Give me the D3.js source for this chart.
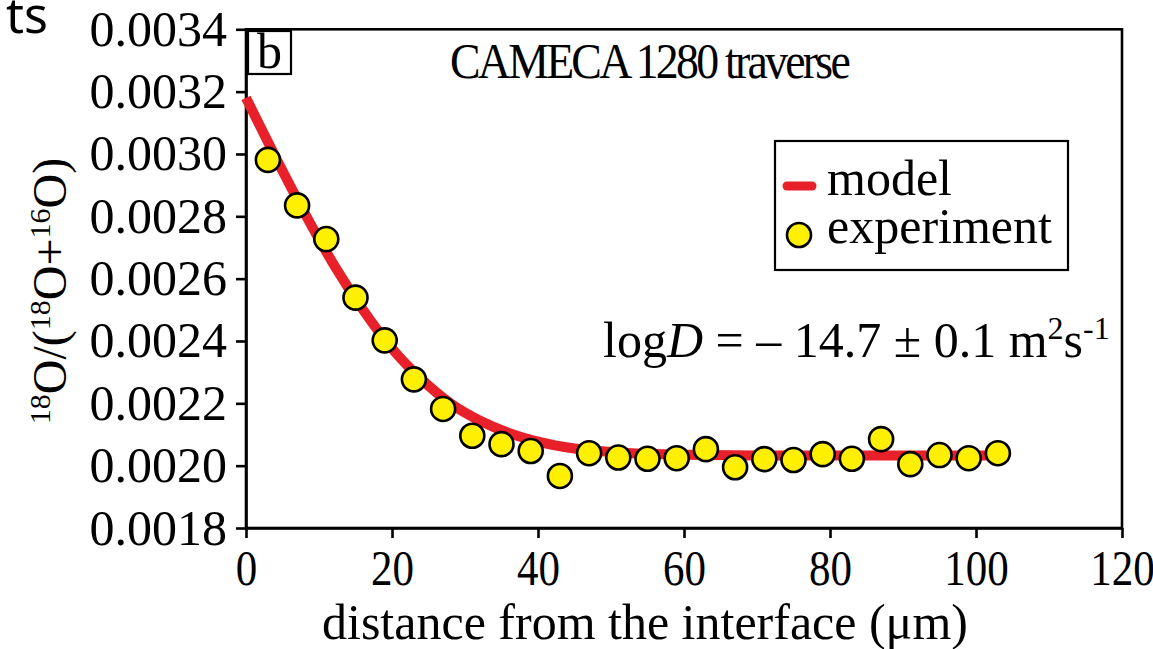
<!DOCTYPE html>
<html>
<head>
<meta charset="utf-8">
<script src="https://cdn.jsdelivr.net/npm/d3@7"></script>
<style>
  html, body { margin: 0; padding: 0; background: #fff; }
  svg { display: block; }
  text { font-family: "Liberation Serif", "Times New Roman", serif; fill: #000; }
</style>
</head>
<body>
<svg id="chart" width="1153" height="649"></svg>
<script>
// ---- data ----
const expDistance = [3, 7, 11, 15, 19, 23, 27, 31, 35, 39, 43, 47, 51, 55, 59, 63, 67, 71, 75, 79, 83, 87, 91, 95, 99, 103];
const expRatio = [0.002981, 0.002835, 0.002727, 0.002539, 0.002402, 0.002277, 0.002182, 0.002096, 0.002069, 0.002047,
                  0.001967, 0.002040, 0.002026, 0.002022, 0.002024, 0.002053, 0.001995, 0.002021, 0.002018, 0.002037,
                  0.002022, 0.002085, 0.002005, 0.002034, 0.002024, 0.002040];
const modelDistance = [0, 4, 8, 12, 16, 20, 24, 28, 32, 36, 40, 45, 50, 55, 60, 70, 80, 90, 103];
const modelRatio = [0.003180, 0.002992, 0.002812, 0.002646, 0.002501, 0.002376, 0.002278, 0.002200, 0.002145, 0.002105,
                    0.002077, 0.002055, 0.002044, 0.002038, 0.002035, 0.002033, 0.002033, 0.002033, 0.002033];
const xTicks = [0, 20, 40, 60, 80, 100, 120];
const yTicks = [0.0018, 0.0020, 0.0022, 0.0024, 0.0026, 0.0028, 0.0030, 0.0032, 0.0034];
const legendLabels = ["model", "experiment"];

// ---- layout ----
const svg = d3.select("#chart");
const pLeft = 246, pRight = 1122, pTop = 29.3, pBottom = 528;
const x = d3.scaleLinear().domain([0, 120]).range([pLeft, pRight]);
const y = d3.scaleLinear().domain([0.0018, 0.0034]).range([pBottom, pTop]);
const RED = "#e8202a", YELLOW = "#ffef00";
const FS = 50;

// cut-off text at top-left
svg.append("text").attr("x", 48).attr("y", 33).attr("text-anchor", "end")
  .style("font-family", "'Noto Sans', 'Open Sans', sans-serif").style("font-size", "50px").text("ts");

// frame
svg.append("rect").attr("x", pLeft).attr("y", pTop).attr("width", pRight - pLeft).attr("height", pBottom - pTop)
  .attr("fill", "none").attr("stroke", "#000").attr("stroke-width", 2.6);

// axes
const xAxis = svg.append("g").attr("transform", `translate(0,${pBottom})`)
  .call(d3.axisBottom(x).tickValues(xTicks).tickSize(10).tickSizeOuter(0).tickPadding(12).tickFormat(d3.format("d")));
const yAxis = svg.append("g").attr("transform", `translate(${pLeft},0)`)
  .call(d3.axisLeft(y).tickValues(yTicks).tickSize(10).tickSizeOuter(0).tickPadding(9).tickFormat(d3.format(".4f")));
[xAxis, yAxis].forEach(g => {
  g.select(".domain").attr("stroke", "#000").attr("stroke-width", 2.6);
  g.selectAll(".tick line").attr("stroke", "#000").attr("stroke-width", 2.6);
  g.selectAll(".tick text").style("font-family", "'Liberation Serif', 'Times New Roman', serif")
    .style("font-size", FS + "px").attr("fill", "#000");
});
// x tick labels are slightly condensed in the reference
xAxis.selectAll(".tick text").attr("transform", "scale(0.86,1)").attr("x", 0);

// axis titles
svg.append("text").attr("x", 645).attr("y", 639).attr("text-anchor", "middle")
  .style("font-size", FS + "px").text("distance from the interface (\u03bcm)");

const yt = svg.append("text").attr("transform", "translate(66,291) rotate(-90)").attr("text-anchor", "middle")
  .style("font-size", "48px");
const parts = [["18", true], ["O/(", false], ["18", true], ["O+", false], ["16", true], ["O)", false]];
parts.forEach(([t, sup]) => {
  const ts = yt.append("tspan").text(t);
  if (sup) ts.style("font-size", "30px").attr("baseline-shift", "super");
});

// panel label "b"
svg.append("rect").attr("x", 248).attr("y", 31).attr("width", 43).attr("height", 43)
  .attr("fill", "#fff").attr("stroke", "#000").attr("stroke-width", 2.2);
svg.append("text").attr("x", 269.5).attr("y", 68).attr("text-anchor", "middle")
  .style("font-size", FS + "px").text("b");

// title
svg.append("text").attr("x", 450).attr("y", 78).attr("textLength", 398).attr("lengthAdjust", "spacingAndGlyphs")
  .style("font-size", "50px").style("letter-spacing", "-3px").text("CAMECA 1280 traverse");

// model curve
const modelPts = modelDistance.map((d, i) => [d, modelRatio[i]]);
svg.append("path").datum(modelPts)
  .attr("d", d3.line().x(d => x(d[0])).y(d => y(d[1])).curve(d3.curveMonotoneX))
  .attr("fill", "none").attr("stroke", RED).attr("stroke-width", 10);

// experiment points
svg.append("g").selectAll("circle").data(expDistance.map((d, i) => [d, expRatio[i]]))
  .join("circle").attr("cx", d => x(d[0])).attr("cy", d => y(d[1])).attr("r", 12)
  .attr("fill", YELLOW).attr("stroke", "#000").attr("stroke-width", 2.6);

// legend
svg.append("rect").attr("x", 775).attr("y", 141).attr("width", 293).attr("height", 129)
  .attr("fill", "#fff").attr("stroke", "#000").attr("stroke-width", 2.2);
svg.append("line").attr("x1", 787).attr("x2", 812).attr("y1", 186).attr("y2", 186)
  .attr("stroke", RED).attr("stroke-width", 9).attr("stroke-linecap", "round");
svg.append("circle").attr("cx", 799).attr("cy", 235).attr("r", 12)
  .attr("fill", YELLOW).attr("stroke", "#000").attr("stroke-width", 2.6);
svg.append("g").selectAll("text").data(legendLabels).join("text")
  .attr("x", 827).attr("y", (d, i) => 195 + i * 48).style("font-size", FS + "px").text(d => d);

// annotation
const ann = svg.append("text").attr("x", 603).attr("y", 357).style("font-size", FS + "px");
ann.append("tspan").text("log");
ann.append("tspan").style("font-style", "italic").text("D");
ann.append("tspan").text(" = \u2013 14.7 \u00b1 0.1 m");
ann.append("tspan").style("font-size", "32px").attr("baseline-shift", "super").text("2");
ann.append("tspan").text("s");
ann.append("tspan").style("font-size", "32px").attr("baseline-shift", "super").text("-1");
</script>
</body>
</html>
